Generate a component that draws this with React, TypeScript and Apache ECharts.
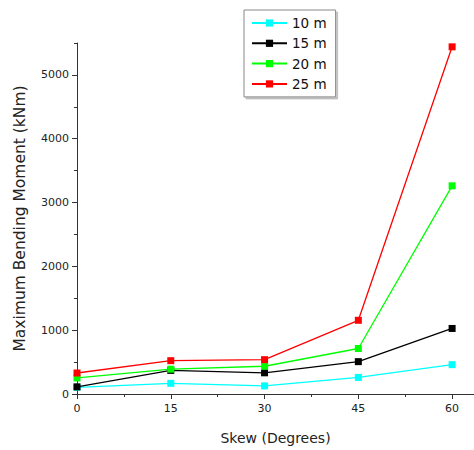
import React, { useEffect, useRef } from "react";
import * as echarts from "echarts";

const skew = [0, 15, 30, 45, 60];
const span10 = [105, 167, 127, 260, 460];
const span15 = [112, 370, 332, 507, 1027];
const span20 = [252, 389, 435, 713, 3262];
const span25 = [329, 522, 538, 1155, 5440];

const seriesNames = ["10 m", "15 m", "20 m", "25 m"];
const seriesColors = ["#00ffff", "#000000", "#00ff00", "#ff0000"];

const xMajor = [0, 15, 30, 45, 60];
const xMinor = [7.5, 22.5, 37.5, 52.5];
const yMajor = [0, 1000, 2000, 3000, 4000, 5000];
const yMinor = [500, 1500, 2500, 3500, 4500, 5500];

const FONT = "DejaVu Sans";

export default function App() {
  const ref = useRef<HTMLDivElement>(null);
  useEffect(() => {
    if (!ref.current) return;
    const chart = echarts.init(ref.current, null, { renderer: "svg" });
    const all = [span10, span15, span20, span25];
    const axisLine = { show: true, lineStyle: { color: "#333", width: 1 } };
    chart.setOption({
      animation: false,
      backgroundColor: "#ffffff",
      grid: { left: 77, right: 0, top: 43, bottom: 53.5, containLabel: false },
      legend: {
        data: seriesNames,
        orient: "vertical",
        left: 244,
        top: 10,
        selectedMode: false,
        itemWidth: 35,
        itemHeight: 9,
        itemGap: 4.3,
        padding: [5, 9, 5, 7],
        backgroundColor: "#ffffff",
        borderColor: "#888",
        borderWidth: 1,
        shadowColor: "rgba(0,0,0,0.25)",
        shadowOffsetX: 2,
        shadowOffsetY: 2,
        shadowBlur: 0,
        textStyle: { fontFamily: FONT, fontSize: 13.5, color: "#111", lineHeight: 16 },
      },
      xAxis: [
        {
          type: "value",
          min: 0,
          max: 63.5,
          interval: 15,
          name: "Skew (Degrees)",
          nameLocation: "middle",
          nameGap: 37,
          nameTextStyle: { fontFamily: FONT, fontSize: 14, color: "#222" },
          axisLine: { ...axisLine, onZero: false },
          axisTick: { show: true, inside: false, length: 5, customValues: xMajor, lineStyle: { color: "#333" } },
          axisLabel: {
            customValues: xMajor,
            fontFamily: FONT,
            fontSize: 11,
            color: "#222",
            margin: 9,
            formatter: (v: number) => String(v),
          },
          splitLine: { show: false },
        },
        {
          type: "value",
          min: 0,
          max: 63.5,
          position: "bottom",
          axisLine: { show: false },
          axisTick: { show: true, length: 3, customValues: xMinor, lineStyle: { color: "#333" } },
          axisLabel: { show: false },
          splitLine: { show: false },
        },
      ],
      yAxis: [
        {
          type: "value",
          min: 0,
          max: 5500,
          interval: 500,
          name: "Maximum Bending Moment (kNm)",
          nameLocation: "middle",
          nameGap: 49,
          nameTextStyle: { fontFamily: FONT, fontSize: 15.5, color: "#222" },
          axisLine: { ...axisLine, onZero: false },
          axisTick: { show: true, length: 5, customValues: yMajor, lineStyle: { color: "#333" } },
          axisLabel: {
            customValues: yMajor,
            fontFamily: FONT,
            fontSize: 11,
            color: "#222",
            margin: 8,
            formatter: (v: number) => String(v),
          },
          splitLine: { show: false },
        },
        {
          type: "value",
          min: 0,
          max: 5500,
          position: "left",
          axisLine: { show: false },
          axisTick: { show: true, length: 3, customValues: yMinor, lineStyle: { color: "#333" } },
          axisLabel: { show: false },
          splitLine: { show: false },
        },
      ],
      series: all.map((vals, i) => ({
        name: seriesNames[i],
        type: "line",
        xAxisIndex: 0,
        yAxisIndex: 0,
        data: skew.map((s, j) => [s, vals[j]]),
        symbol: "rect",
        symbolSize: 7,
        showAllSymbol: true,
        color: seriesColors[i],
        lineStyle: { color: seriesColors[i], width: 1.3 },
        itemStyle: { color: seriesColors[i] },
        z: 2 + i,
      })),
    });
    return () => chart.dispose();
  }, []);
  return (
    <div
      ref={ref}
      style={{ position: "absolute", left: 0, top: 0, width: 474, height: 450 }}
    />
  );
}
